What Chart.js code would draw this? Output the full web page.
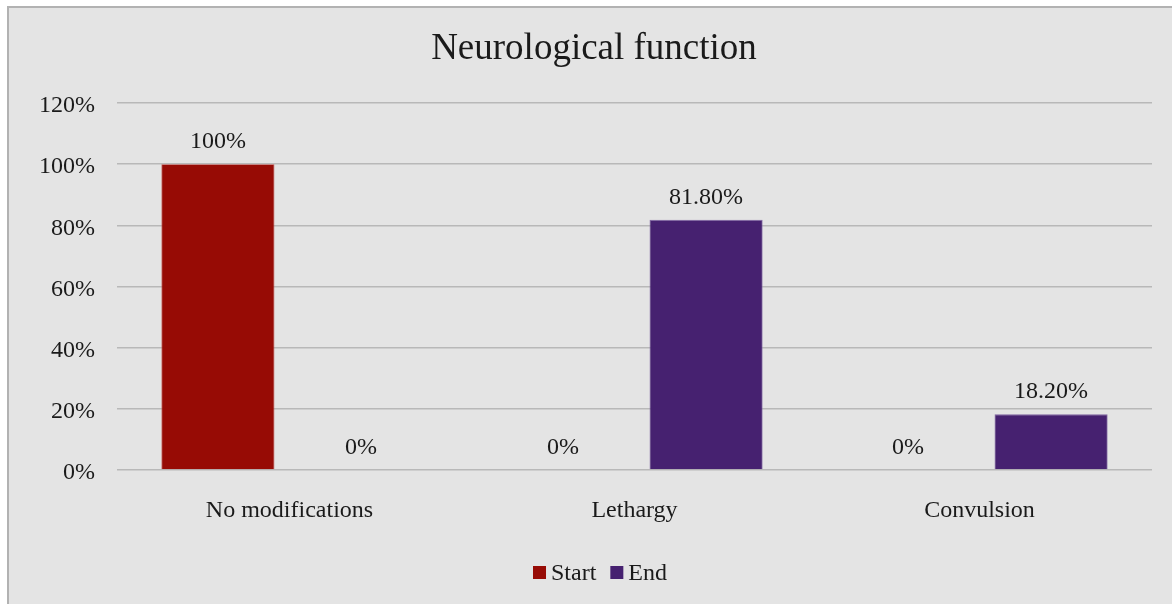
<!DOCTYPE html>
<html>
<head>
<meta charset="utf-8">
<style>
  html, body { margin: 0; padding: 0; background: #ffffff; }
  #wrap { position: relative; width: 1172px; height: 604px; }
  canvas { display: block; }
</style>
<script src="https://cdn.jsdelivr.net/npm/chart.js@4/dist/chart.umd.min.js"></script>
</head>
<body>
<div id="wrap"><canvas id="c" width="1172" height="604"></canvas></div>
<script>
// Categories and series values (percent)
const categories = ["No modifications", "Lethargy", "Convulsion"];
const startValues = [100, 0, 0];
const endValues = [0, 81.8, 18.2];
const yTicks = [0, 20, 40, 60, 80, 100, 120];

const chartTitle = "Neurological function";
const serif = "'Liberation Serif', 'Times New Roman', serif";
const textColor = "#1a1a1a";

function pct(v) {
  return (Number.isInteger(v) ? String(v) : v.toFixed(2)) + "%";
}

// Panel background with a thin frame on the top and left edges
const panelPlugin = {
  id: "panel",
  beforeDraw(chart) {
    const ctx = chart.ctx;
    ctx.save();
    ctx.fillStyle = "#ffffff";
    ctx.fillRect(0, 0, chart.width, chart.height);
    ctx.fillStyle = "#e4e4e4";
    ctx.fillRect(8, 7, chart.width - 8, chart.height - 7);
    ctx.strokeStyle = "#b2b2b2";
    ctx.lineWidth = 2;
    ctx.beginPath();
    ctx.moveTo(8, chart.height);
    ctx.lineTo(8, 7);
    ctx.lineTo(chart.width, 7);
    ctx.stroke();
    ctx.restore();
  }
};

// Title centred over the panel
const titlePlugin = {
  id: "panelTitle",
  afterDraw(chart) {
    const ctx = chart.ctx;
    ctx.save();
    ctx.font = "37px " + serif;
    ctx.fillStyle = textColor;
    ctx.textAlign = "center";
    ctx.textBaseline = "alphabetic";
    ctx.fillText(chartTitle, 594, 59);
    ctx.restore();
  }
};

// Value labels above each bar
const valueLabels = {
  id: "valueLabels",
  afterDatasetsDraw(chart) {
    const ctx = chart.ctx;
    ctx.save();
    ctx.font = "24px " + serif;
    ctx.fillStyle = textColor;
    ctx.textAlign = "center";
    ctx.textBaseline = "alphabetic";
    chart.data.datasets.forEach((ds, i) => {
      const meta = chart.getDatasetMeta(i);
      meta.data.forEach((bar, j) => {
        ctx.fillText(pct(ds.data[j]), bar.x, bar.y - 16);
      });
    });
    ctx.restore();
  }
};

// Compact legend row below the axis: square swatch, then the series name
const legendRow = {
  id: "legendRow",
  afterDraw(chart) {
    const ctx = chart.ctx;
    const box = 13, gapText = 5, gapItem = 14;
    const cx = 600, cy = 573;
    ctx.save();
    ctx.font = "24px " + serif;
    ctx.textBaseline = "middle";
    ctx.textAlign = "left";
    const items = chart.data.datasets.map(ds => ({
      label: ds.label,
      color: ds.backgroundColor,
      w: ctx.measureText(ds.label).width
    }));
    let total = 0;
    items.forEach((it, i) => {
      total += box + gapText + it.w + (i < items.length - 1 ? gapItem : 0);
    });
    let x = cx - total / 2;
    items.forEach(it => {
      ctx.fillStyle = it.color;
      ctx.fillRect(x, cy - 7, box, box);
      x += box + gapText;
      ctx.fillStyle = textColor;
      ctx.fillText(it.label, x, cy + 1);
      x += it.w + gapItem;
    });
    ctx.restore();
  }
};

new Chart(document.getElementById("c"), {
  type: "bar",
  data: {
    labels: categories,
    datasets: [
      {
        label: "Start",
        data: startValues,
        backgroundColor: "#970b05",
        borderColor: "#c0504d",
        borderWidth: 0.8
      },
      {
        label: "End",
        data: endValues,
        backgroundColor: "#462170",
        borderColor: "#8064a2",
        borderWidth: 0.8
      }
    ]
  },
  options: {
    responsive: false,
    animation: false,
    devicePixelRatio: 1,
    categoryPercentage: 0.83,
    barPercentage: 0.79,
    layout: { padding: { left: 0, right: 20, top: 103, bottom: 74 } },
    plugins: {
      title: { display: false },
      legend: { display: false },
      tooltip: { enabled: false }
    },
    scales: {
      x: {
        grid: { display: false },
        border: { display: false },
        ticks: {
          color: textColor,
          font: { family: serif, size: 24 },
          padding: 18
        },
        afterFit(scale) { scale.height = 60; }
      },
      y: {
        min: 0,
        max: 120,
        afterBuildTicks(scale) {
          scale.ticks = yTicks.map(v => ({ value: v }));
        },
        grid: { color: "#b8b8b8", lineWidth: 1.5, drawTicks: false },
        border: { display: false },
        ticks: {
          color: textColor,
          font: { family: serif, size: 24 },
          padding: 22,
          labelOffset: 3,
          callback: v => v + "%"
        },
        afterFit(scale) { scale.width = 117; }
      }
    }
  },
  plugins: [panelPlugin, valueLabels, legendRow, titlePlugin]
});
</script>
</body>
</html>
